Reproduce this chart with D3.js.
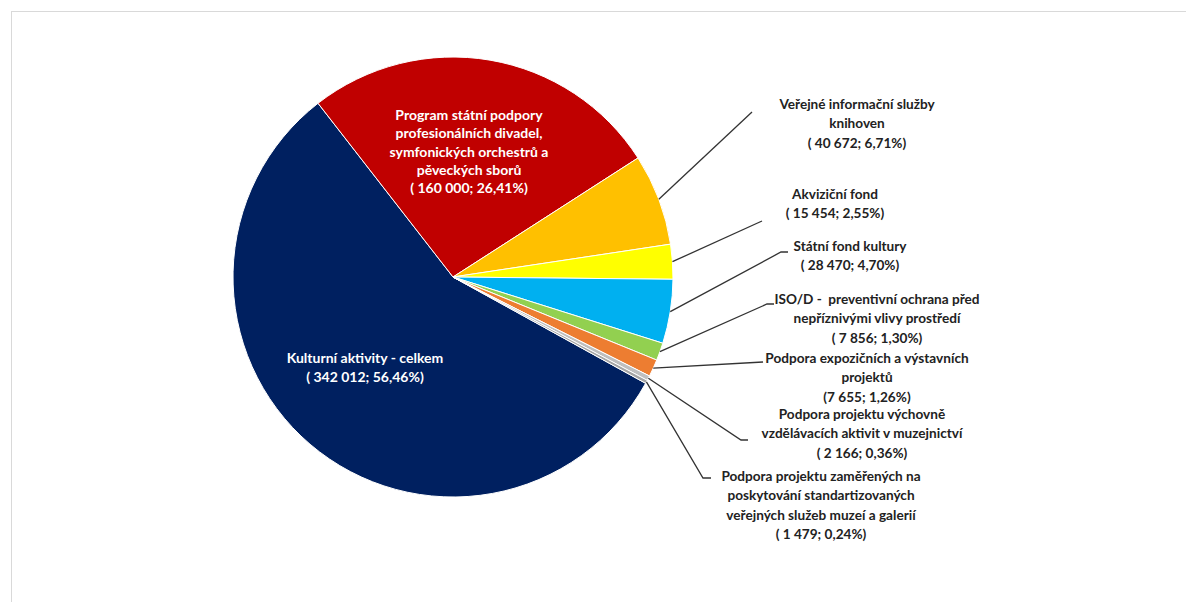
<!DOCTYPE html>
<html>
<head>
<meta charset="utf-8">
<script src="https://cdn.jsdelivr.net/npm/d3@7"></script>
<style>
  html, body { margin: 0; padding: 0; background: #fff; }
  svg { display: block; }
  text { font-family: Lato, "Open Sans", sans-serif; font-weight: bold; white-space: pre; }
</style>
</head>
<body>
<svg id="chart" width="1186" height="602"></svg>
<script>
// ---- data ----
const categories = [
  ["Kulturní aktivity - celkem"],
  ["Program státní podpory", "profesionálních divadel,", "symfonických orchestrů a", "pěveckých sborů"],
  ["Veřejné informační služby", "knihoven"],
  ["Akviziční fond"],
  ["Státní fond kultury"],
  ["ISO/D -  preventivní ochrana před", "nepříznivými vlivy prostředí"],
  ["Podpora expozičních a výstavních", "projektů"],
  ["Podpora projektu výchovně", "vzdělávacích aktivit v muzejnictví"],
  ["Podpora projektu zaměřených na", "poskytování standartizovaných", "veřejných služeb muzeí a galerií"]
];
const values = [342012, 160000, 40672, 15454, 28470, 7856, 7655, 2166, 1479];
const percents = ["56,46%", "26,41%", "6,71%", "2,55%", "4,70%", "1,30%", "1,26%", "0,36%", "0,24%"];
const valueLabels = ["( 342 012", "( 160 000", "( 40 672", "( 15 454", "( 28 470", "( 7 856", "(7 655", "( 2 166", "( 1 479"];

// ---- style / layout ----
const colors = ["#002060", "#C00000", "#FFC000", "#FFFF00", "#00B0F0", "#92D050", "#ED7D31", "#BFBFBF", "#A5A5A5"];
const inside = [true, true, false, false, false, false, false, false, false];
// label centre x, first-line centre y, leader elbow (x,y), leader end x
const labelLayout = [
  {x: 365, y: 358},
  {x: 469, y: 115},
  {x: 857, y: 104, ex: 752, ey: 112, sx: 752},
  {x: 835, y: 194, ex: 762, ey: 221, sx: 762},
  {x: 850, y: 246, ex: 781, ey: 252, sx: 788},
  {x: 877, y: 299, ex: 767, ey: 304, sx: 774},
  {x: 867, y: 358, ex: 763, ey: 362, sx: 763},
  {x: 862, y: 414, ex: 741, ey: 440, sx: 748},
  {x: 821, y: 476, ex: 703, ey: 478, sx: 711}
];
const lineH = 19.5;
const cx = 453, cy = 277, R = 220;
const startDeg = 118.9;

const svg = d3.select("#chart");

// chart frame
svg.append("rect").attr("x", 11.5).attr("y", 11.5).attr("width", 1200).attr("height", 620)
  .attr("fill", "#fff").attr("stroke", "#d9d9d9").attr("stroke-width", 1);

const pie = d3.pie().sort(null).value(d => d)
  .startAngle(startDeg * Math.PI / 180)
  .endAngle(startDeg * Math.PI / 180 + 2 * Math.PI);
const arcs = pie(values);
const arc = d3.arc().innerRadius(0).outerRadius(R);

const g = svg.append("g").attr("transform", `translate(${cx},${cy})`);
g.selectAll("path").data(arcs).join("path")
  .attr("d", arc)
  .attr("fill", (d, i) => colors[i])
  .attr("stroke", "#fff").attr("stroke-width", 1).attr("stroke-linejoin", "round");

// leader lines
const leaderG = svg.append("g");
arcs.forEach((d, i) => {
  if (inside[i]) return;
  const L = labelLayout[i];
  const a = (d.startAngle + d.endAngle) / 2;
  const px = cx + R * Math.sin(a), py = cy - R * Math.cos(a);
  leaderG.append("polyline")
    .attr("points", `${px},${py} ${L.ex},${L.ey} ${L.sx},${L.ey}`)
    .attr("fill", "none").attr("stroke", "#333333").attr("stroke-width", 1.3);
});

// labels
const labG = svg.append("g");
arcs.forEach((d, i) => {
  const L = labelLayout[i];
  const lines = categories[i].concat([`${valueLabels[i]}; ${percents[i]})`]);
  const t = labG.append("text")
    .attr("text-anchor", "middle")
    .attr("font-size", inside[i] ? 14 : 13.6)
    .attr("fill", inside[i] ? "#ffffff" : "#222222");
  lines.forEach((ln, k) => {
    t.append("tspan").attr("x", L.x).attr("y", L.y + k * (i === 1 ? 18.3 : lineH))
      .attr("dy", "0.35em").text(ln);
  });
});
</script>
</body>
</html>
